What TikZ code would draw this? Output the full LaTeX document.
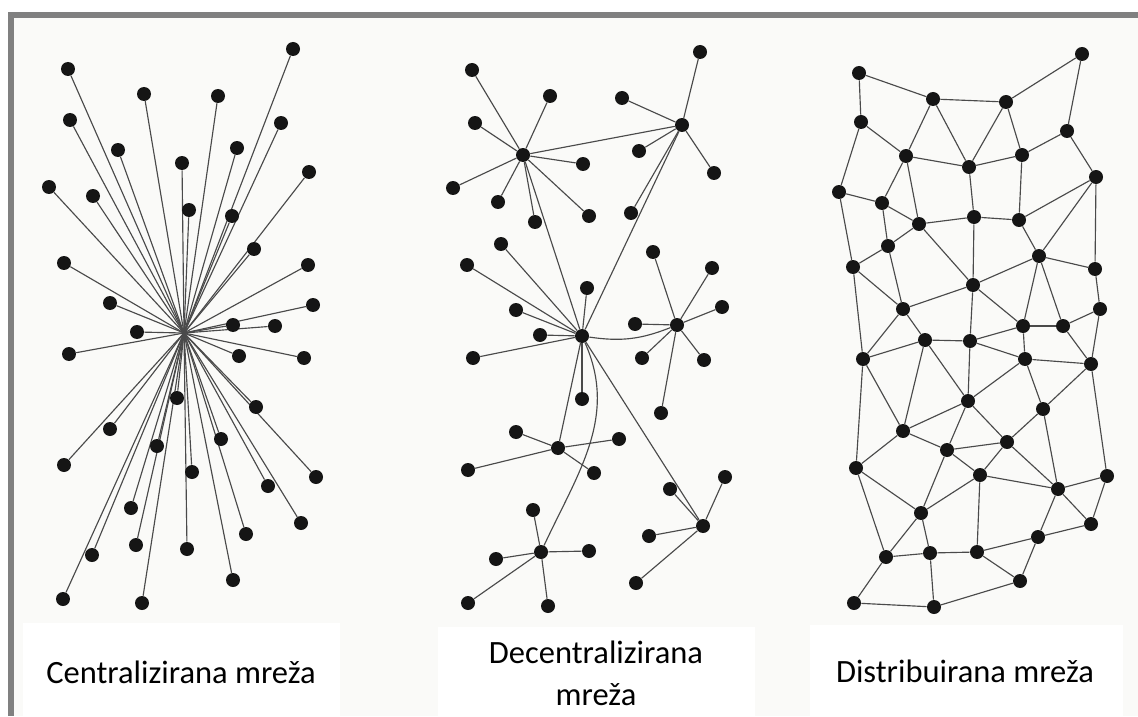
\documentclass[tikz,border=0pt]{standalone}
\usepackage{fontspec}
\setmainfont{Carlito}
\usetikzlibrary{backgrounds}
\definecolor{dotcol}{HTML}{151515}
\definecolor{linecol}{HTML}{4A4A4A}
\definecolor{framecol}{HTML}{808080}
\definecolor{papercol}{HTML}{FAFAF8}

\begin{document}
\begin{tikzpicture}[x=0.02cm,y=-0.02cm,
  dot/.style={circle,fill=dotcol,inner sep=0pt,minimum size=0.28cm},
  every edge/.style={draw=linecol,line width=0.65pt},
  caption/.style={font=\fontsize{18.5}{23.5}\selectfont,align=center,inner sep=0pt}]
\useasboundingbox (0,0) rectangle (1138,716);

\begin{pgfonlayer}{background}
\fill[papercol] (14,18) rectangle (1138,716);
\fill[framecol] (8,12) rectangle (1138,18);
\fill[framecol] (8,12) rectangle (14,716);
\fill[white] (23,623) rectangle (340,716);
\fill[white] (438,627) rectangle (755,716);
\fill[white] (810,625) rectangle (1123,716);
\end{pgfonlayer}

% centralizirana
\coordinate (hub) at (184,333);
\node[dot](c1) at (293,49){};
\node[dot](c2) at (68,69){};
\node[dot](c3) at (144,94){};
\node[dot](c4) at (218,96){};
\node[dot](c5) at (70,120){};
\node[dot](c6) at (281,123){};
\node[dot](c7) at (118,150){};
\node[dot](c8) at (237,148){};
\node[dot](c9) at (182,163){};
\node[dot](c10) at (309,172){};
\node[dot](c11) at (49,187){};
\node[dot](c12) at (93,196){};
\node[dot](c13) at (189,210){};
\node[dot](c14) at (232,216){};
\node[dot](c15) at (254,249){};
\node[dot](c16) at (64,263){};
\node[dot](c17) at (308,265){};
\node[dot](c18) at (110,303){};
\node[dot](c19) at (313,305){};
\node[dot](c20) at (233,325){};
\node[dot](c21) at (275,326){};
\node[dot](c22) at (137,332){};
\node[dot](c23) at (69,354){};
\node[dot](c24) at (239,356){};
\node[dot](c25) at (304,358){};
\node[dot](c26) at (177,398){};
\node[dot](c27) at (256,407){};
\node[dot](c28) at (110,429){};
\node[dot](c29) at (221,439){};
\node[dot](c30) at (157,446){};
\node[dot](c31) at (64,465){};
\node[dot](c32) at (192,472){};
\node[dot](c33) at (316,477){};
\node[dot](c34) at (268,486){};
\node[dot](c35) at (131,508){};
\node[dot](c36) at (301,523){};
\node[dot](c37) at (246,534){};
\node[dot](c38) at (136,545){};
\node[dot](c39) at (187,549){};
\node[dot](c40) at (92,555){};
\node[dot](c41) at (233,580){};
\node[dot](c42) at (63,599){};
\node[dot](c43) at (142,603){};

% decentralizirana
\node[dot](dA) at (523,155){};
\node[dot](dB) at (682,125){};
\node[dot](dC) at (582,336){};
\node[dot](dD) at (677,325){};
\node[dot](dE) at (558,448){};
\node[dot](dF) at (703,526){};
\node[dot](dG) at (541,552){};
\node[dot](dA1) at (472,70){};
\node[dot](dA2) at (550,96){};
\node[dot](dA3) at (475,123){};
\node[dot](dA4) at (453,188){};
\node[dot](dA5) at (498,202){};
\node[dot](dA6) at (535,222){};
\node[dot](dA7) at (583,164){};
\node[dot](dA8) at (589,216){};
\node[dot](dB1) at (700,52){};
\node[dot](dB2) at (622,98){};
\node[dot](dB3) at (639,151){};
\node[dot](dB4) at (714,173){};
\node[dot](dB5) at (631,213){};
\node[dot](dC1) at (516,310){};
\node[dot](dC2) at (467,265){};
\node[dot](dC3) at (501,244){};
\node[dot](dC4) at (587,288){};
\node[dot](dC5) at (540,335){};
\node[dot](dC6) at (473,358){};
\node[dot](dC7) at (582,399){};
\node[dot](dD1) at (635,324){};
\node[dot](dD2) at (722,307){};
\node[dot](dD3) at (653,252){};
\node[dot](dD4) at (712,268){};
\node[dot](dD5) at (642,358){};
\node[dot](dD6) at (704,360){};
\node[dot](dD7) at (661,413){};
\node[dot](dE1) at (516,432){};
\node[dot](dE2) at (619,439){};
\node[dot](dE3) at (468,470){};
\node[dot](dE4) at (594,473){};
\node[dot](dF1) at (725,477){};
\node[dot](dF2) at (670,489){};
\node[dot](dF3) at (649,536){};
\node[dot](dF4) at (636,583){};
\node[dot](dG1) at (533,510){};
\node[dot](dG2) at (589,551){};
\node[dot](dG3) at (496,559){};
\node[dot](dG4) at (468,603){};
\node[dot](dG5) at (548,606){};

% distribuirana
\node[dot](ma) at (1082,54){};
\node[dot](mb) at (859,73){};
\node[dot](mc) at (933,99){};
\node[dot](md) at (1006,102){};
\node[dot](me) at (861,122){};
\node[dot](mf) at (1067,131){};
\node[dot](mg) at (906,156){};
\node[dot](mh) at (969,167){};
\node[dot](mi) at (1022,155){};
\node[dot](mj) at (1096,177){};
\node[dot](mk) at (839,192){};
\node[dot](ml) at (882,203){};
\node[dot](mm) at (919,224){};
\node[dot](mn) at (974,217){};
\node[dot](mo) at (1019,220){};
\node[dot](mp) at (888,246){};
\node[dot](mq) at (1039,256){};
\node[dot](mr) at (853,267){};
\node[dot](ms) at (1095,269){};
\node[dot](mt) at (973,285){};
\node[dot](mu) at (903,309){};
\node[dot](mv) at (1100,309){};
\node[dot](mw) at (1023,326){};
\node[dot](mx) at (1063,326){};
\node[dot](my) at (925,340){};
\node[dot](mz) at (970,341){};
\node[dot](mA) at (863,359){};
\node[dot](mB) at (1025,359){};
\node[dot](mC) at (1091,364){};
\node[dot](mD) at (968,401){};
\node[dot](mE) at (1043,409){};
\node[dot](mF) at (903,431){};
\node[dot](mG) at (1007,442){};
\node[dot](mH) at (947,450){};
\node[dot](mI) at (856,468){};
\node[dot](mJ) at (980,475){};
\node[dot](mK) at (1107,476){};
\node[dot](mL) at (1058,489){};
\node[dot](mM) at (921,513){};
\node[dot](mN) at (1091,524){};
\node[dot](mO) at (1038,537){};
\node[dot](mP) at (886,557){};
\node[dot](mQ) at (930,553){};
\node[dot](mR) at (977,552){};
\node[dot](mS) at (1020,581){};
\node[dot](mT) at (854,603){};
\node[dot](mU) at (934,607){};

\node[caption,anchor=base](lblC) at (181,683){Centralizirana mreža};
\node[caption,anchor=base](lblD) at (596,705){Decentralizirana\\mreža};
\node[caption,anchor=base](lblM) at (965,682){Distribuirana mreža};

\begin{pgfonlayer}{background}
\path
(hub) edge (c1) edge (c2) edge (c3) edge (c4) edge (c5) edge (c6) edge (c7)
 edge (c8) edge (c9) edge (c10) edge (c11) edge (c12) edge (c13) edge (c14)
 edge (c15) edge (c16) edge (c17) edge (c18) edge (c19) edge (c20) edge (c21)
 edge (c22) edge (c23) edge (c24) edge (c25) edge (c26) edge (c27) edge (c28)
 edge (c29) edge (c30) edge (c31) edge (c32) edge (c33) edge (c34) edge (c35)
 edge (c36) edge (c37) edge (c38) edge (c39) edge (c40) edge (c41) edge (c42)
 edge (c43);

\path
(dA) edge (dA1) edge (dA2) edge (dA3) edge (dA4) edge (dA5) edge (dA6)
 edge (dA7) edge (dA8) edge (dB) edge (dC)
(dB) edge (dB1) edge (dB2) edge (dB3) edge (dB4) edge (dB5) edge (dC)
(dC) edge (dC1) edge (dC2) edge (dC3) edge (dC4) edge (dC5) edge (dC6)
 edge (dC7) edge (dE) edge (dF) edge[bend right=15] (dD)
 edge[out=-66,in=65] (dG)
(dD) edge (dD1) edge (dD2) edge (dD3) edge (dD4) edge (dD5) edge (dD6) edge (dD7)
(dE) edge (dE1) edge (dE2) edge (dE3) edge (dE4)
(dF) edge (dF1) edge (dF2) edge (dF3) edge (dF4)
(dG) edge (dG1) edge (dG2) edge (dG3) edge (dG4) edge (dG5);

\path
(ma) edge (md) edge (mf)
(mb) edge (mc) edge (me)
(mc) edge (md) edge (mg) edge (mh)
(md) edge (mh) edge (mi)
(me) edge (mg) edge (mk)
(mf) edge (mi) edge (mj)
(mg) edge (mh) edge (ml) edge (mm)
(mh) edge (mi) edge (mn)
(mi) edge (mo)
(mj) edge (mo) edge (mq) edge (ms)
(mk) edge (ml) edge (mr)
(ml) edge (mm) edge (mp)
(mm) edge (mn) edge (mp) edge (mt)
(mn) edge (mo) edge (mt)
(mo) edge (mq)
(mp) edge (mr) edge (mu)
(mq) edge (ms) edge (mt) edge (mw) edge (mx)
(mr) edge (mu) edge (mA)
(ms) edge (mv)
(mt) edge (mu) edge (mw) edge (mz)
(mu) edge (mA) edge (my)
(mv) edge (mx) edge (mC)
(mw) edge (mx) edge (mB) edge (mz)
(mx) edge (mC)
(my) edge (mz) edge (mA) edge (mD) edge (mF)
(mz) edge (mD) edge (mB)
(mA) edge (mF) edge (mI)
(mB) edge (mC) edge (mD) edge (mE)
(mC) edge (mE) edge (mK)
(mD) edge (mF) edge (mH) edge (mG)
(mE) edge (mG) edge (mL)
(mF) edge (mH) edge (mI)
(mG) edge (mH) edge (mJ) edge (mL)
(mH) edge (mJ) edge (mM)
(mI) edge (mM) edge (mP)
(mJ) edge (mM) edge (mL) edge (mR)
(mK) edge (mL) edge (mN)
(mL) edge (mN) edge (mO)
(mM) edge (mP) edge (mQ)
(mN) edge (mO)
(mO) edge (mR) edge (mS)
(mP) edge (mQ) edge (mT)
(mQ) edge (mR) edge (mU)
(mR) edge (mS)
(mS) edge (mU)
(mT) edge (mU);
\end{pgfonlayer}
\end{tikzpicture}
\end{document}
